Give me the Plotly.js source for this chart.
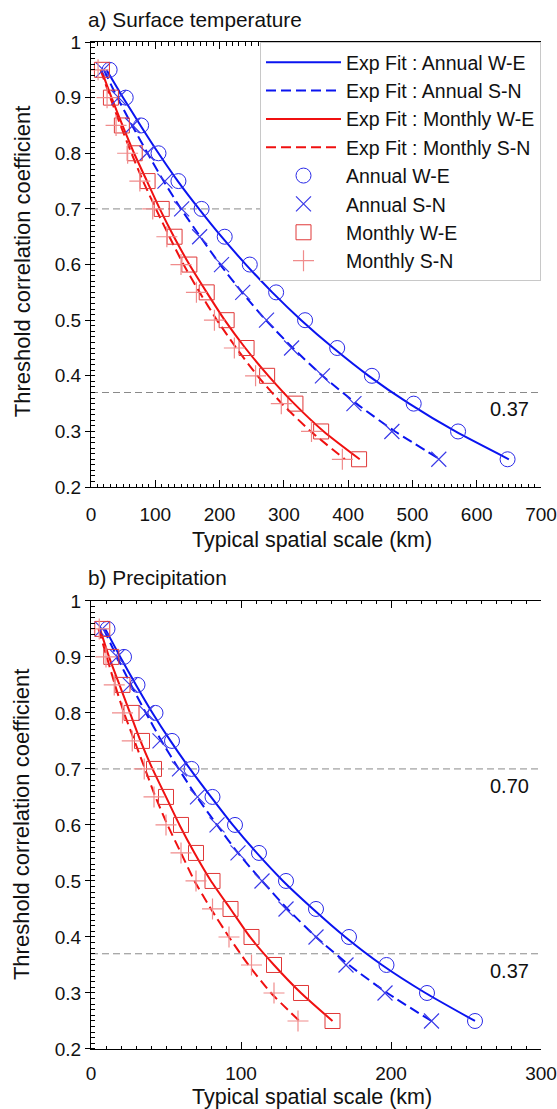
<!DOCTYPE html>
<html>
<head>
<meta charset="utf-8">
<script src="https://cdn.plot.ly/plotly-3.0.1.min.js"></script>
<style>html,body{margin:0;padding:0;background:#fff;}#chart{width:557px;height:1109px;}</style>
</head>
<body>
<div id="chart"></div>
<script>
// Threshold correlation levels (y values shared by all series)
const levels = [0.95,0.9,0.85,0.8,0.75,0.7,0.65,0.6,0.55,0.5,0.45,0.4,0.35,0.3,0.25];

// a) Surface temperature: typical spatial scale (km)
const tAnnWE = [29,54,78,105,136,172,208,247,288,333,383,437,502,571,648];
const tAnnSN = [19,43,65,87,115,141,169,203,236,273,312,360,409,468,541];
const tMonWE = [17,31,48,68,88,110,130,153,180,211,242,274,318,358,417];
const tMonSN = [11,25,39,57,76,96,118,140,164,192,223,256,296,343,391];
const tFitAnnWE = [24,50,77,105,135,168,203,241,282,327,377,432,495,567,650];
const tFitAnnSN = [20,41,64,88,113,140,170,201,235,272,314,360,413,473,543];
const tFitMonWE = [16,32,49,67,87,107,129,153,180,208,240,276,316,362,418];
const tFitMonSN = [15,30,46,63,81,101,122,144,169,196,226,259,297,342,395];

// b) Precipitation: typical spatial scale (km)
const pAnnWE = [11,22,31,43,54,67,81,96,112,130,150,172,197,224,256];
const pAnnSN = [7.5,17.5,26,37,46,59,71,84,98,114,130,150,170,196,227];
const pMonWE = [7.5,13.5,21,27,34,42,50,60,70,81,93,107,122,140,161];
const pMonSN = [5.5,10,15.5,21,27.5,35.5,42,50,60,70,81,92,107,122,138];
const pFitAnnWE = [9.5,19.5,30,41,53,66,80,94.5,110.5,128,148,169.5,194,223,256];
const pFitAnnSN = [8.4,17.3,26.7,36.6,47,58.5,70.6,84,98,114,131,150,172,197.5,227];
const pFitMonWE = [6,12,19,26,33,41,50,59,69,80,93,106,122,140,161];
const pFitMonSN = [5,10.5,16,22,29,36,43,51,60,69,80,92,105,120,139];

const fitNames = ['Exp Fit : Annual W-E','Exp Fit : Annual S-N','Exp Fit : Monthly W-E','Exp Fit : Monthly S-N'];
const ptNames = ['Annual W-E','Annual S-N','Monthly W-E','Monthly S-N'];
const refTop = [0.7, 0.37];
const refBot = [0.7, 0.37];
const refLabelsTop = ['', '0.37'];
const refLabelsBot = ['0.70', '0.37'];

const BLUE = '#0a14f0', RED = '#f01010';
const lineStyles = [
  {color: BLUE, width: 2, dash: 'solid'},
  {color: BLUE, width: 2, dash: '10px,5px'},
  {color: RED, width: 2, dash: 'solid'},
  {color: RED, width: 2, dash: '10px,5px'}
];
const markerStyles = [
  {symbol: 'circle-open', size: 15, color: '#2a2ae8', line: {width: 1, color: '#2a2ae8'}},
  {symbol: 'x-thin-open', size: 15, color: '#3a3ae8', line: {width: 1.2, color: '#3a3ae8'}},
  {symbol: 'square-open', size: 15, color: '#e03838', line: {width: 1, color: '#e03838'}},
  {symbol: 'cross-thin-open', size: 15, color: '#f08c8c', line: {width: 1.2, color: '#f08c8c'}}
];

function panelTraces(fits, pts, xa, ya, legend) {
  const tr = [];
  fits.forEach((f, i) => tr.push({
    x: f, y: levels, xaxis: xa, yaxis: ya, mode: 'lines', type: 'scatter',
    name: fitNames[i], line: Object.assign({shape: 'spline', smoothing: 0.6}, lineStyles[i]),
    showlegend: legend, hoverinfo: 'skip'
  }));
  pts.forEach((p, i) => tr.push({
    x: p, y: levels, xaxis: xa, yaxis: ya, mode: 'markers', type: 'scatter',
    name: ptNames[i], marker: markerStyles[i], showlegend: legend, hoverinfo: 'skip'
  }));
  return tr;
}

const data = [].concat(
  panelTraces([tFitAnnWE,tFitAnnSN,tFitMonWE,tFitMonSN],[tAnnWE,tAnnSN,tMonWE,tMonSN],'x','y',true),
  panelTraces([pFitAnnWE,pFitAnnSN,pFitMonWE,pFitMonSN],[pAnnWE,pAnnSN,pMonWE,pMonSN],'x2','y2',false)
);

const FONT = 'Arial, "Liberation Sans", sans-serif';
function xAxis(range, anchor, standoff) {
  return {
    range: range, anchor: anchor, dtick: 100, tick0: 0,
    ticks: 'inside', ticklen: 7, tickwidth: 1, tickcolor: '#000',
    minor: {ticks: 'inside', ticklen: 3.5, dtick: 10, tickcolor: '#000', tickwidth: 1, showgrid: false},
    showline: true, linecolor: '#000', linewidth: 1, mirror: 'allticks',
    showgrid: false, zeroline: false, ticklabelstandoff: standoff,
    tickfont: {family: FONT, size: 19, color: '#111'}
  };
}
function yAxis(domain, anchor) {
  return {
    range: [0.2, 1], domain: domain, anchor: anchor, dtick: 0.1, tick0: 0,
    ticks: 'outside', ticklen: 5, tickwidth: 1, tickcolor: '#000',
    minor: {ticks: 'inside', ticklen: 3.5, dtick: 0.01, tickcolor: '#000', tickwidth: 1, showgrid: false},
    showline: true, linecolor: '#000', linewidth: 1, mirror: false,
    showgrid: false, zeroline: false,
    tickfont: {family: FONT, size: 19, color: '#111'}
  };
}
function yRight(domain, anchor, over) {
  return {
    range: [0.2, 1], domain: domain, anchor: anchor, overlaying: over, side: 'right',
    dtick: 0.1, tick0: 0, ticks: 'inside', ticklen: 7, tickwidth: 1, tickcolor: '#000',
    minor: {ticks: 'inside', ticklen: 3.5, dtick: 0.01, tickcolor: '#000', tickwidth: 1, showgrid: false},
    showline: true, linecolor: '#000', linewidth: 1, showticklabels: false,
    showgrid: false, zeroline: false
  };
}

const shapes = [];
refTop.forEach(v => shapes.push({type: 'line', xref: 'x domain', yref: 'y', x0: 0, x1: 1, y0: v, y1: v,
  line: {color: '#8a8a8a', width: 1, dash: '7px,4px'}, layer: 'below'}));
refBot.forEach(v => shapes.push({type: 'line', xref: 'x2 domain', yref: 'y2', x0: 0, x1: 1, y0: v, y1: v,
  line: {color: '#8a8a8a', width: 1, dash: '7px,4px'}, layer: 'below'}));

const annotations = [
  {text: 'a) Surface temperature', xref: 'paper', yref: 'paper', x: -0.012, y: 1.0225, xanchor: 'left', yanchor: 'middle', showarrow: false, font: {family: FONT, size: 20.8, color: '#111'}},
  {text: 'b) Precipitation', xref: 'paper', yref: 'paper', x: -0.012, y: 0.4687, xanchor: 'left', yanchor: 'middle', showarrow: false, font: {family: FONT, size: 20.8, color: '#111'}},
  {text: 'Typical spatial scale (km)', xref: 'paper', yref: 'paper', x: 0.49, y: 0.5055, xanchor: 'center', yanchor: 'middle', showarrow: false, font: {family: FONT, size: 21.5, color: '#111'}},
  {text: 'Typical spatial scale (km)', xref: 'paper', yref: 'paper', x: 0.49, y: -0.0477, xanchor: 'center', yanchor: 'middle', showarrow: false, font: {family: FONT, size: 21.5, color: '#111'}},
  {text: 'Threshold correlation coefficient', xref: 'paper', yref: 'paper', x: -0.153, y: 0.7815, xanchor: 'center', yanchor: 'middle', textangle: -90, showarrow: false, font: {family: FONT, size: 22, color: '#111'}},
  {text: 'Threshold correlation coefficient', xref: 'paper', yref: 'paper', x: -0.153, y: 0.2225, xanchor: 'center', yanchor: 'middle', textangle: -90, showarrow: false, font: {family: FONT, size: 22, color: '#111'}}
];
refTop.forEach((v, i) => { if (refLabelsTop[i]) annotations.push({text: refLabelsTop[i], xref: 'x domain', yref: 'y', x: 0.978, y: v - 0.03, xanchor: 'right', yanchor: 'middle', showarrow: false, font: {family: FONT, size: 20, color: '#111'}}); });
refBot.forEach((v, i) => { if (refLabelsBot[i]) annotations.push({text: refLabelsBot[i], xref: 'x2 domain', yref: 'y2', x: 0.978, y: v - 0.03, xanchor: 'right', yanchor: 'middle', showarrow: false, font: {family: FONT, size: 20, color: '#111'}}); });

const layout = {
  width: 557, height: 1109,
  margin: {l: 91, r: 16, t: 42, b: 60, pad: 0},
  paper_bgcolor: '#fff', plot_bgcolor: '#fff',
  font: {family: FONT, size: 19, color: '#111'},
  xaxis: xAxis([0, 700], 'y', 10),
  yaxis: yAxis([0.558, 1], 'x'),
  xaxis2: xAxis([0, 300], 'y2', 7),
  yaxis2: yAxis([0, 0.445], 'x2'),
  yaxis3: yRight([0.558, 1], 'x', 'y'),
  yaxis4: yRight([0, 0.445], 'x2', 'y2'),
  showlegend: true,
  legend: {x: 1, xanchor: 'right', y: 1, yanchor: 'top', bgcolor: '#fff', bordercolor: '#c8c8c8', borderwidth: 1,
    font: {family: FONT, size: 19.5, color: '#111'}, tracegroupgap: 0, itemwidth: 75},
  shapes: shapes,
  annotations: annotations
};

Plotly.newPlot('chart', data, layout, {staticPlot: true, displayModeBar: false});
</script>
</body>
</html>
